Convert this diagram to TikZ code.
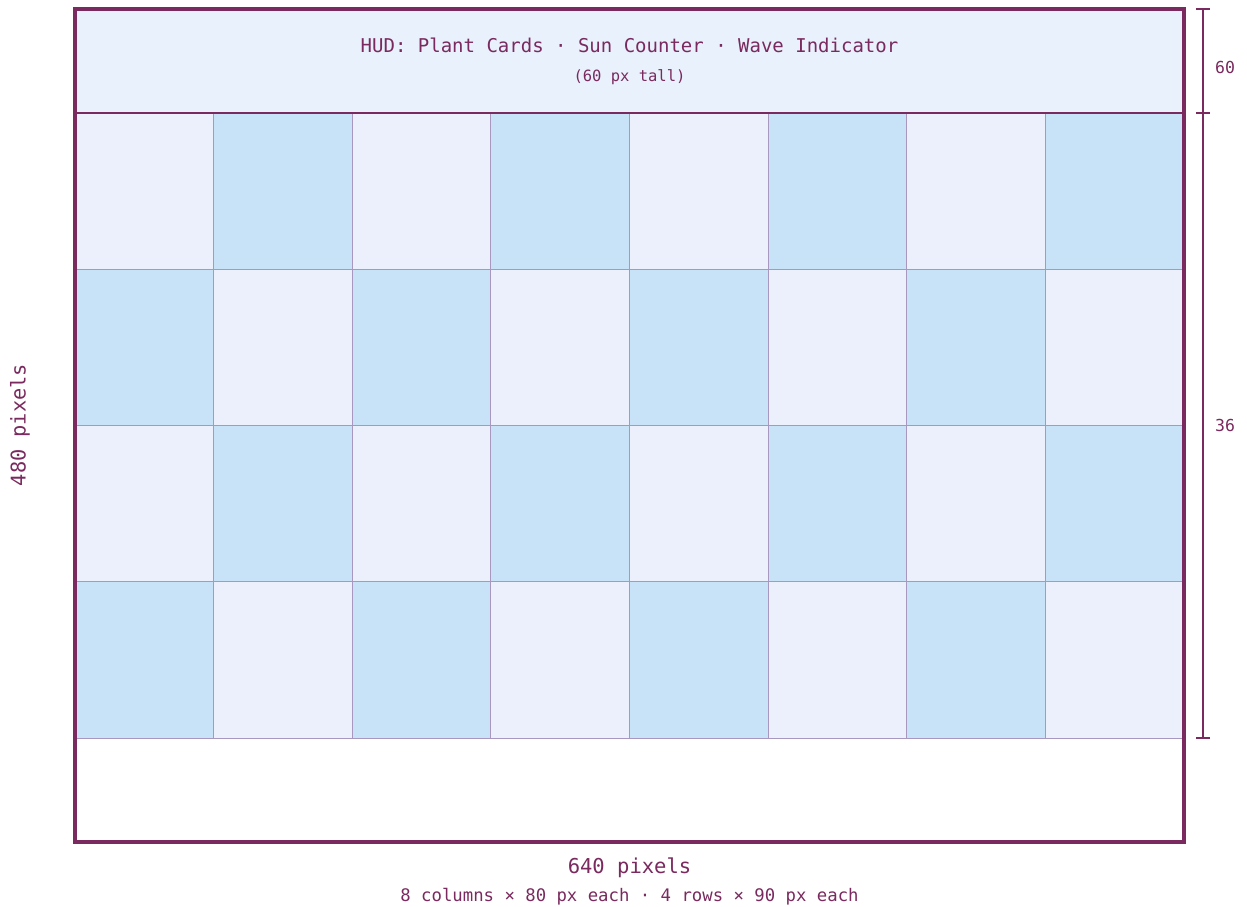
\documentclass[tikz,border=0pt]{standalone}
\usepackage{fontspec}
\setmonofont{DejaVu Sans Mono}
\definecolor{frame}{HTML}{7A2A5E}
\definecolor{hudfill}{HTML}{E8F1FC}
\definecolor{celllight}{HTML}{ECF0FC}
\definecolor{celldark}{HTML}{C8E2F8}
\definecolor{gridline}{HTML}{A898C0}
\begin{document}
\begin{tikzpicture}[x=1pt,y=-1pt,
  lbl/.style={text=frame,font=\ttfamily,inner sep=0pt},
  cellline/.style={draw=gridline,line width=0.9pt},
  dimline/.style={draw=frame,line width=1.6pt}]
\useasboundingbox (0,0) rectangle (1247,907);
\fill[white] (0,0) rectangle (1247,907);
% HUD
\fill[hudfill] (75,9) rectangle (1184,113);
% grid cells
\foreach \r in {0,...,3}{
  \foreach \c in {0,...,7}{
    \pgfmathtruncatemacro{\cellparity}{mod(\r+\c,2)}
    \ifnum\cellparity=1
      \filldraw[fill=celldark,cellline] (75+\c*138.625,113+\r*156.25) rectangle ++(138.625,156.25);
    \else
      \filldraw[fill=celllight,cellline] (75+\c*138.625,113+\r*156.25) rectangle ++(138.625,156.25);
    \fi
  }
}
% HUD separator
\draw[frame,line width=2.8pt] (75,113) -- (1184,113);
% outer frame
\draw[frame,line width=4pt] (75,9) rectangle (1184,842);
% dimension on right
\coordinate (d0) at (1203,9);
\coordinate (d1) at (1203,113);
\coordinate (d2) at (1203,738);
\draw[dimline] (d0) -- (d2);
\foreach \p in {d0,d1,d2}{\draw[dimline] ([xshift=-7pt]\p) -- ([xshift=7pt]\p);}
\node[lbl,font=\ttfamily\fontsize{16.5}{18}\selectfont] (dimA) at (1225,67) {60};
\node[lbl,font=\ttfamily\fontsize{16.5}{18}\selectfont] (dimB) at (1225,425.5) {36};
% texts
\node[lbl,font=\ttfamily\fontsize{19}{22}\selectfont] (hud) at (629.5,45.5) {HUD: Plant Cards · Sun Counter · Wave Indicator};
\node[lbl,font=\ttfamily\fontsize{15.5}{18}\selectfont] (hudsub) at (629.5,77.5) {(60 px tall)};
\node[lbl,font=\ttfamily\fontsize{20.5}{24}\selectfont] (width) at (629.5,867.5) {640 pixels};
\node[lbl,font=\ttfamily\fontsize{17.3}{20}\selectfont] (cols) at (629.5,896.5) {8 columns × 80 px each · 4 rows × 90 px each};
\node[lbl,font=\ttfamily\fontsize{20.3}{24}\selectfont,rotate=90] (height) at (20,425) {480 pixels};
\end{tikzpicture}
\end{document}
